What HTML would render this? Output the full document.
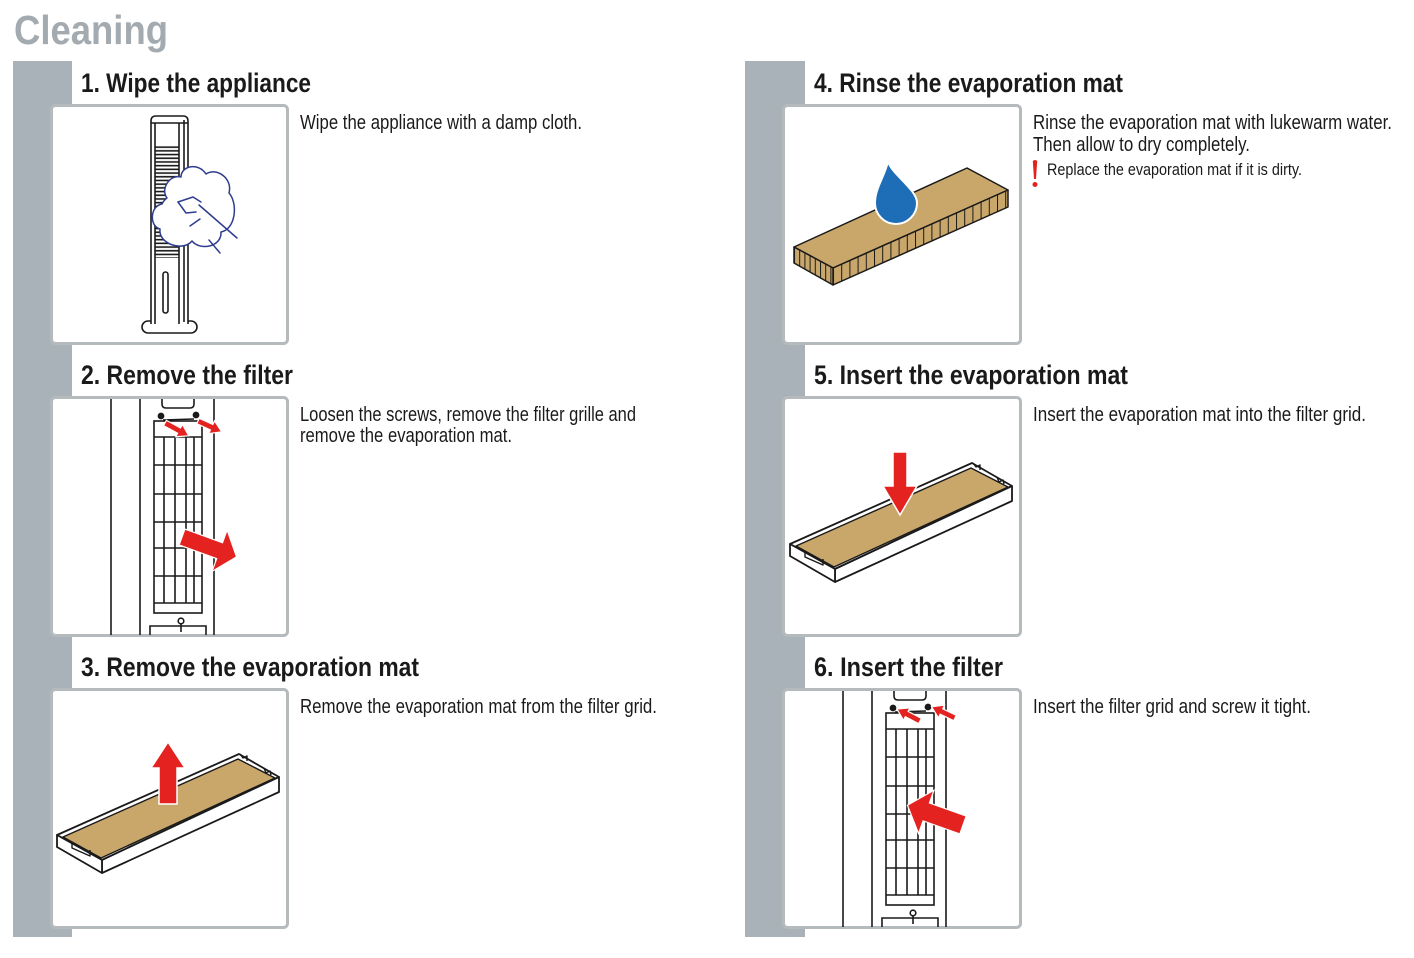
<!DOCTYPE html>
<html>
<head>
<meta charset="utf-8">
<style>
html,body{margin:0;padding:0;background:#fff;}
svg{display:block;}
text{font-family:"Liberation Sans Narrow","Liberation Sans",sans-serif;}
</style>
</head>
<body>
<svg width="1414" height="958" viewBox="0 0 1414 958" xmlns="http://www.w3.org/2000/svg">
<defs>
  <pattern id="vent" patternUnits="userSpaceOnUse" x="0" y="146" width="30" height="3.7">
    <line x1="0" y1="1.2" x2="30" y2="1.2" stroke="#1a1a1a" stroke-width="1.6"/>
  </pattern>
  <pattern id="h8" patternUnits="userSpaceOnUse" x="833" y="0" width="8.2" height="60">
    <rect x="0" y="0" width="8.2" height="60" fill="#c9a76b"/>
    <line x1="0.5" y1="0" x2="0.5" y2="60" stroke="#1a1a1a" stroke-width="1"/>
  </pattern>
  <pattern id="h5" patternUnits="userSpaceOnUse" x="794" y="0" width="5.2" height="60">
    <rect x="0" y="0" width="5.2" height="60" fill="#c9a76b"/>
    <line x1="0.5" y1="0" x2="0.5" y2="60" stroke="#1a1a1a" stroke-width="1"/>
  </pattern>
  <g id="tower" fill="none" stroke="#1a1a1a" stroke-width="1.6">
    <line x1="61" y1="3" x2="61" y2="239"/>
    <line x1="90" y1="3" x2="90" y2="239"/>
    <line x1="164" y1="3" x2="164" y2="239"/>
    <path d="M112 3 V8 Q112 12 116 12 H140 Q144 12 144 8 V3"/>
    <circle cx="111" cy="20" r="2.6" fill="#1a1a1a"/>
    <circle cx="146" cy="19" r="2.6" fill="#1a1a1a"/>
    <line x1="113" y1="24" x2="144" y2="23"/>
    <rect x="104" y="25" width="48" height="192"/>
    <line x1="104" y1="41" x2="152" y2="41"/>
    <line x1="104" y1="69" x2="152" y2="69"/>
    <line x1="104" y1="98" x2="152" y2="98"/>
    <line x1="104" y1="126" x2="152" y2="126"/>
    <line x1="104" y1="152" x2="152" y2="152"/>
    <line x1="104" y1="180" x2="152" y2="180"/>
    <line x1="104" y1="207" x2="152" y2="207"/>
    <line x1="114" y1="41" x2="114" y2="207"/>
    <line x1="125" y1="41" x2="125" y2="207"/>
    <line x1="136" y1="41" x2="136" y2="207"/>
    <line x1="144" y1="41" x2="144" y2="207"/>
    <path d="M100 239 V230 H156 V239"/>
    <circle cx="131" cy="225" r="2.8"/>
    <line x1="131" y1="228" x2="131" y2="236"/>
  </g>
  <g id="tray" stroke="#1a1a1a" stroke-width="1.8" stroke-linejoin="round">
    <polygon points="7,147 189,66 229,89 52,172" fill="#fff"/>
    <polygon points="13,149 188,71 225,90 51,170" fill="#c9a76b" stroke-width="1.4"/>
    <polygon points="52,172 229,89 229,104 52,185" fill="#fff"/>
    <polygon points="7,147 52,172 52,185 7,159" fill="#fff"/>
    <path d="M22 154 L22 160 L40 168 L40 162" fill="none" stroke-width="1.4"/>
    <path d="M190 66 L193 70 L197 68 L197 73" fill="none" stroke-width="1.4"/>
    <path d="M214 80 L216 85 L220 83 L221 87" fill="none" stroke-width="1.4"/>
  </g>
</defs>

<!-- Title -->
<text x="14" y="44" font-size="41" font-weight="bold" fill="#a3abb0" textLength="154" lengthAdjust="spacingAndGlyphs">Cleaning</text>

<!-- Sidebars -->
<rect x="13" y="61" width="59" height="876" fill="#a8b2b8"/>
<rect x="745" y="61" width="60" height="876" fill="#a8b2b8"/>

<!-- Headings -->
<g font-size="27" font-weight="bold" fill="#1a1a1a">
  <text x="81" y="92" textLength="230" lengthAdjust="spacingAndGlyphs">1. Wipe the appliance</text>
  <text x="81" y="384" textLength="212" lengthAdjust="spacingAndGlyphs">2. Remove the filter</text>
  <text x="81" y="676" textLength="338" lengthAdjust="spacingAndGlyphs">3. Remove the evaporation mat</text>
  <text x="814" y="92" textLength="309" lengthAdjust="spacingAndGlyphs">4. Rinse the evaporation mat</text>
  <text x="814" y="384" textLength="314" lengthAdjust="spacingAndGlyphs">5. Insert the evaporation mat</text>
  <text x="814" y="676" textLength="189" lengthAdjust="spacingAndGlyphs">6. Insert the filter</text>
</g>

<!-- Body text -->
<g font-size="20" fill="#1a1a1a">
  <text x="300" y="129" textLength="282" lengthAdjust="spacingAndGlyphs">Wipe the appliance with a damp cloth.</text>
  <text x="300" y="421" textLength="336" lengthAdjust="spacingAndGlyphs">Loosen the screws, remove the filter grille and</text>
  <text x="300" y="442" textLength="212" lengthAdjust="spacingAndGlyphs">remove the evaporation mat.</text>
  <text x="300" y="713" textLength="357" lengthAdjust="spacingAndGlyphs">Remove the evaporation mat from the filter grid.</text>
  <text x="1033" y="129" textLength="359" lengthAdjust="spacingAndGlyphs">Rinse the evaporation mat with lukewarm water.</text>
  <text x="1033" y="151" textLength="217" lengthAdjust="spacingAndGlyphs">Then allow to dry completely.</text>
  <text x="1033" y="421" textLength="333" lengthAdjust="spacingAndGlyphs">Insert the evaporation mat into the filter grid.</text>
  <text x="1033" y="713" textLength="278" lengthAdjust="spacingAndGlyphs">Insert the filter grid and screw it tight.</text>
</g>
<text x="1047" y="175" font-size="16.5" fill="#1a1a1a" textLength="255" lengthAdjust="spacingAndGlyphs">Replace the evaporation mat if it is dirty.</text>
<path d="M1032.8 161 Q1035 159 1037.2 161 L1036 179 L1034 179 Z" fill="#e42320"/>
<circle cx="1035" cy="184.5" r="2.5" fill="#e42320"/>

<!-- Boxes -->
<g fill="#fff" stroke="#b5babd" stroke-width="3">
  <rect x="51.5" y="105.5" width="236" height="238" rx="4"/>
  <rect x="51.5" y="397.5" width="236" height="238" rx="4"/>
  <rect x="51.5" y="689.5" width="236" height="238" rx="4"/>
  <rect x="783.5" y="105.5" width="237" height="238" rx="4"/>
  <rect x="783.5" y="397.5" width="237" height="238" rx="4"/>
  <rect x="783.5" y="689.5" width="237" height="238" rx="4"/>
</g>

<!-- Image 1: tower + cloth -->
<g fill="none" stroke="#1a1a1a" stroke-width="1.6">
  <rect x="142" y="321" width="55" height="12" rx="6" fill="#fff"/>
  <path d="M151 324 L151 121 Q151 116 156 116 L183 116 Q188 116 188 121 L188 324" fill="#fff"/>
  <line x1="151" y1="123" x2="188" y2="123"/>
  <line x1="155" y1="123" x2="155" y2="324"/>
  <line x1="179" y1="123" x2="179" y2="324"/>
  <line x1="184" y1="120" x2="184" y2="322"/>
  <rect x="155" y="146" width="24" height="112" fill="url(#vent)" stroke="none"/>
  <rect x="163" y="272" width="5" height="41" rx="2.5"/>
</g>
<g fill="none" stroke="#2e3d8f" stroke-width="1.5" stroke-linecap="round" stroke-linejoin="round">
  <path d="M162 204 C150 206 149 226 160 229 C158 244 183 252 192 241 C200 251 222 247 221 232 C236 229 238 203 229 193 C233 178 216 167 206 174 C198 162 181 166 181 177 C170 174 160 189 167 198 C164 200 163 202 162 204 Z" fill="#fff"/>
  <path d="M178 202 L193 197 L201 202"/>
  <path d="M178 202 L186 213 L196 212"/>
  <path d="M190 226 L200 219"/>
  <path d="M199 205 L237 238"/>
  <path d="M209 240 L220 253"/>
</g>

<!-- Image 2: remove filter -->
<use href="#tower" x="50" y="396"/>
<g fill="#e42320" stroke="#fff" stroke-width="1.2" stroke-linejoin="miter">
  <polygon transform="translate(165,423) rotate(28.4)" points="0,-3 16,-3 16,-7 27,0 16,7 16,3 0,3"/>
  <polygon transform="translate(198,421) rotate(24.6)" points="0,-3 15,-3 15,-7 26,0 15,7 15,3 0,3"/>
  <polygon transform="translate(182,537) rotate(20)" points="0,-8.5 40,-8.5 40,-22 58,0 40,22 40,8.5 0,8.5"/>
</g>

<!-- Image 3: tray with up arrow -->
<use href="#tray" x="50" y="688"/>
<polygon transform="translate(168,804) rotate(-90)" points="0,-9 36,-9 36,-17 62,0 36,17 36,9 0,9" fill="#e42320" stroke="#fff" stroke-width="1.5"/>

<!-- Image 4: mat + drop -->
<g stroke="#1a1a1a" stroke-width="1.5" stroke-linejoin="round">
  <polygon points="794,247 967,168 1008,190 833,268" fill="#c9a76b"/>
  <polygon points="833,268 1008,190 1008,207 833,285" fill="url(#h8)"/>
  <polygon points="794,247 833,268 833,285 794,263" fill="url(#h5)"/>
</g>
<path d="M888 161 C891 174 917 189 917 203 A21 21 0 0 1 875 203 C875 188 885 176 888 161 Z" fill="#1d6db7" stroke="#fff" stroke-width="2"/>

<!-- Image 5: tray with down arrow -->
<use href="#tray" x="783" y="397"/>
<polygon transform="translate(900,452) rotate(90)" points="0,-7 34,-7 34,-17 63,0 34,17 34,7 0,7" fill="#e42320" stroke="#fff" stroke-width="1.5"/>

<!-- Image 6: insert filter -->
<use href="#tower" x="782" y="688"/>
<g fill="#e42320" stroke="#fff" stroke-width="1.2">
  <polygon transform="translate(920,721) rotate(207.5)" points="0,-3 15,-3 15,-7 26,0 15,7 15,3 0,3"/>
  <polygon transform="translate(955,718) rotate(205.6)" points="0,-3 15,-3 15,-7 26,0 15,7 15,3 0,3"/>
  <polygon transform="translate(963,825) rotate(199.6)" points="0,-9.5 39,-9.5 39,-23 59,0 39,23 39,9.5 0,9.5"/>
</g>
</svg>
</body>
</html>
